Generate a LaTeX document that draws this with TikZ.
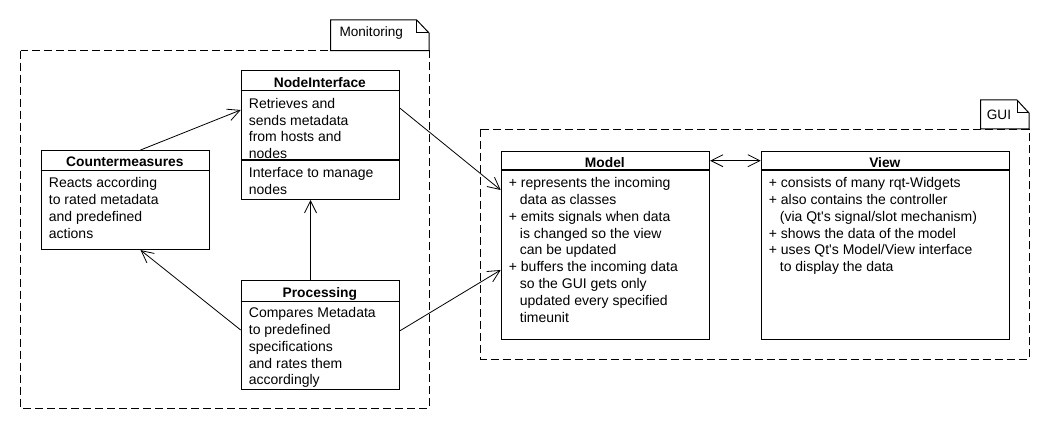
\documentclass[tikz,border=0pt]{standalone}
\usepackage{fontspec}
\setmainfont{Liberation Sans}
\usetikzlibrary{arrows.meta}
\begin{document}
\begin{tikzpicture}[x=1pt,y=-1pt,
  box/.style={draw,line width=1.1pt,rectangle,inner sep=0pt,anchor=north west},
  pkg/.style={draw,line width=0.9pt,dash pattern=on 8pt off 4pt},
  tab/.style={draw,line width=1pt,fill=white},
  title/.style={font=\fontsize{13.8}{16.8}\selectfont\bfseries,anchor=base,inner sep=0pt},
  body/.style={font=\fontsize{14}{16.8}\selectfont,anchor=base west,inner sep=0pt,align=left},
  tablabel/.style={font=\fontsize{13.6}{16}\selectfont,anchor=base west,inner sep=0pt},
  conn/.style={line width=0.8pt,-{Straight Barb[length=12pt,width=12pt]}},
  biconn/.style={line width=0.8pt,{Straight Barb[length=12pt,width=12pt]}-{Straight Barb[length=12pt,width=12pt]}},
  div/.style={line width=1.1pt}
]
\useasboundingbox (0,0) rectangle (1050,430);
\fill[white] (0,0) rectangle (1050,430);

% packages
\draw[pkg] (20.7,50.7) rectangle (429,408);
\draw[pkg] (480.7,129) rectangle (1029,359);
% tabs
\draw[tab] (330.7,50.7) -- (330.7,20) -- (416.7,20) -- (429,33) -- (429,50.7) -- cycle;
\draw[line width=1pt] (416.7,20) -- (416.7,33) -- (429,33);
\node[tablabel] (montab) at (339.3,36.7) {Monitoring};
\draw[tab] (980.7,129) -- (980.7,100) -- (1017,100) -- (1029,113) -- (1029,129) -- cycle;
\draw[line width=1pt] (1017,100) -- (1017,113) -- (1029,113);
\node[tablabel] (guitab) at (986.7,120) {GUI};

% boxes
\node[box,minimum width=168.3pt,minimum height=99pt] (cm) at (40.7,150) {};
\node[box,minimum width=158.3pt,minimum height=129pt] (ni) at (240.7,70) {};
\node[box,minimum width=158.3pt,minimum height=109pt] (proc) at (240.7,280) {};
\node[box,minimum width=208.3pt,minimum height=188.3pt] (model) at (500.7,150.7) {};
\node[box,minimum width=248.3pt,minimum height=188.3pt] (view) at (760.7,150.7) {};

% dividers
\draw[div] ([yshift=-20.7pt]cm.north west) -- ([yshift=-20.7pt]cm.north east);
\draw[div] ([yshift=-20.7pt]ni.north west) -- ([yshift=-20.7pt]ni.north east);
\draw[div] ([yshift=-90pt]ni.north west) -- ([yshift=-90pt]ni.north east);
\draw[div] ([yshift=-21.7pt]proc.north west) -- ([yshift=-21.7pt]proc.north east);
\draw[div] ([yshift=-19.3pt]model.north west) -- ([yshift=-19.3pt]model.north east);
\draw[div] ([yshift=-19.3pt]view.north west) -- ([yshift=-19.3pt]view.north east);

% titles
\node[title] (cm-title) at (124.85,166.7) {Countermeasures};
\node[title] (ni-title) at (319.85,87.3) {NodeInterface};
\node[title] (proc-title) at (319.85,297.7) {Processing};
\node[title] (model-title) at (604.85,167.7) {Model};
\node[title] (view-title) at (884.85,167.7) {View};

% bodies (anchor = baseline of last line)
\node[body] (cm-body) at (48.7,238.1) {Reacts according\\to rated metadata\\and predefined\\actions};
\node[body] (ni-body) at (248.7,158.7) {Retrieves and\\sends metadata\\from hosts and\\nodes};
\node[body] (ni-ops) at (248.7,194.1) {Interface to manage\\nodes};
\node[body] (proc-body) at (248.7,384.9) {Compares Metadata\\to predefined\\specifications\\and rates them\\accordingly};
\node[body] (model-body) at (508.7,322.1) {+ represents the incoming\\\hspace*{11pt}data as classes\\+ emits signals when data\\\hspace*{11pt}is changed so the view\\\hspace*{11pt}can be updated\\+ buffers the incoming data\\\hspace*{11pt}so the GUI gets only\\\hspace*{11pt}updated every specified\\\hspace*{11pt}timeunit};
\node[body] (view-body) at (768.7,271.7) {+ consists of many rqt-Widgets\\+ also contains the controller\\\hspace*{11pt}(via Qt\textquotesingle s signal/slot mechanism)\\+ shows the data of the model\\+ uses Qt\textquotesingle s Model/View interface\\\hspace*{11pt}to display the data};

% connectors
\draw[conn] ([xshift=15.15pt]cm.north) -- ([yshift=-40pt]ni.north west);
\draw[conn] ([xshift=-9.85pt]proc.north) -- ([xshift=-9.85pt]ni.south);
\draw[conn] ([yshift=-50pt]proc.north west) -- ([xshift=15.15pt]cm.south);
\draw[conn] ([yshift=-38.3pt]ni.north east) -- ([yshift=-39.3pt]model.north west);
\draw[conn] ([yshift=-50.7pt]proc.north east) -- ([yshift=-119.3pt]model.north west);
\draw[biconn] ([yshift=-10pt]model.north east) -- ([yshift=-10pt]view.north west);
\end{tikzpicture}
\end{document}
